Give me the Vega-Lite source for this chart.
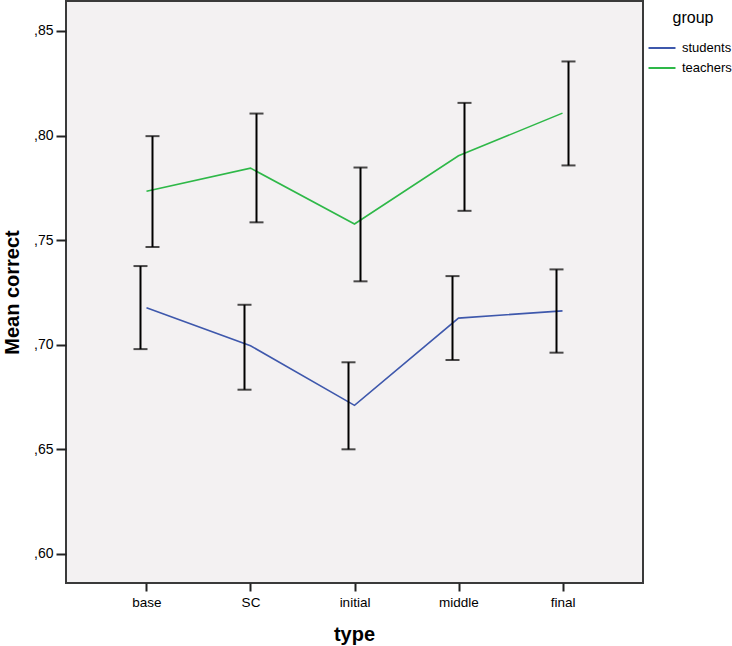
{
  "$schema": "https://vega.github.io/schema/vega-lite/v6.json",
  "width": 577,
  "height": 582,
  "autosize": {"type": "none"},
  "padding": {"left": 66, "top": 1, "right": 89, "bottom": 63},
  "background": "white",
  "config": {
    "font": "Liberation Sans",
    "view": {"fill": "#f3f1f2", "stroke": "#3a3a3a", "strokeWidth": 2}
  },
  "data": {
    "values": [
      {"type": "base", "group": "students", "mean": 0.7177, "lo": 0.6979, "hi": 0.7376},
      {"type": "SC", "group": "students", "mean": 0.6995, "lo": 0.6785, "hi": 0.7191},
      {"type": "initial", "group": "students", "mean": 0.6710, "lo": 0.6500, "hi": 0.6916},
      {"type": "middle", "group": "students", "mean": 0.7127, "lo": 0.6927, "hi": 0.7328},
      {"type": "final", "group": "students", "mean": 0.7162, "lo": 0.6962, "hi": 0.7360},
      {"type": "base", "group": "teachers", "mean": 0.7734, "lo": 0.7467, "hi": 0.7997},
      {"type": "SC", "group": "teachers", "mean": 0.7844, "lo": 0.7585, "hi": 0.8105},
      {"type": "initial", "group": "teachers", "mean": 0.7577, "lo": 0.7303, "hi": 0.7847},
      {"type": "middle", "group": "teachers", "mean": 0.7903, "lo": 0.7640, "hi": 0.8156},
      {"type": "final", "group": "teachers", "mean": 0.8107, "lo": 0.7857, "hi": 0.8354}
    ]
  },
  "encoding": {
    "x": {
      "field": "type",
      "type": "nominal",
      "sort": ["base", "SC", "initial", "middle", "final"],
      "scale": {"type": "point", "padding": 0.774},
      "axis": {
        "title": "type",
        "titleFontSize": 20,
        "titleFontWeight": "bold",
        "titleColor": "black",
        "titleX": 288,
        "titleY": 51,
        "titleBaseline": "middle",
        "labelAngle": 0,
        "labelFontSize": 13.5,
        "labelColor": "black",
        "labelPadding": 4,
        "domain": false,
        "tickColor": "#222",
        "tickWidth": 2,
        "tickSize": 8
      }
    }
  },
  "layer": [
    {
      "mark": {"type": "line", "strokeWidth": 1.6},
      "encoding": {
        "y": {
          "field": "mean",
          "type": "quantitative",
          "scale": {"domain": [0.5861, 0.8643], "nice": false, "zero": false},
          "axis": {
            "title": "Mean correct",
            "titleFontSize": 20,
            "titleFontWeight": "bold",
            "titleColor": "black",
            "titleAngle": -90,
            "titleX": -54,
            "titleY": 291,
            "titleAlign": "center",
            "titleBaseline": "middle",
            "values": [0.6, 0.65, 0.7, 0.75, 0.8, 0.85],
            "labelExpr": "replace(format(datum.value, '.2f'), '0.', ',')",
            "labelFontSize": 14,
            "labelColor": "black",
            "labelPadding": 3,
            "grid": false,
            "domain": false,
            "tickColor": "#222",
            "tickWidth": 2,
            "tickSize": 10
          }
        },
        "color": {
          "field": "group",
          "type": "nominal",
          "scale": {"domain": ["students", "teachers"], "range": ["#3e58ac", "#2eb848"]},
          "legend": {
            "orient": "none",
            "legendX": 588,
            "legendY": 9,
            "padding": 0,
            "title": "group",
            "titleFontSize": 16,
            "titleFontWeight": "normal",
            "titleColor": "black",
            "titleAnchor": "middle",
            "titlePadding": 14,
            "symbolType": "M-2,0H2",
            "symbolSize": 182,
            "symbolStrokeWidth": 2,
            "labelFontSize": 13,
            "labelColor": "black",
            "labelOffset": 12,
            "rowPadding": 5
          }
        }
      }
    },
    {
      "mark": {"type": "rule", "color": "black", "strokeWidth": 2, "xOffset": {"expr": "datum.group == 'students' ? -6 : 6"}},
      "encoding": {
        "y": {"field": "lo", "type": "quantitative"},
        "y2": {"field": "hi"}
      }
    },
    {
      "mark": {"type": "tick", "color": "black", "thickness": 2, "size": 14, "xOffset": {"expr": "datum.group == 'students' ? -6 : 6"}},
      "encoding": {
        "y": {"field": "lo", "type": "quantitative"}
      }
    },
    {
      "mark": {"type": "tick", "color": "black", "thickness": 2, "size": 14, "xOffset": {"expr": "datum.group == 'students' ? -6 : 6"}},
      "encoding": {
        "y": {"field": "hi", "type": "quantitative"}
      }
    }
  ]
}
